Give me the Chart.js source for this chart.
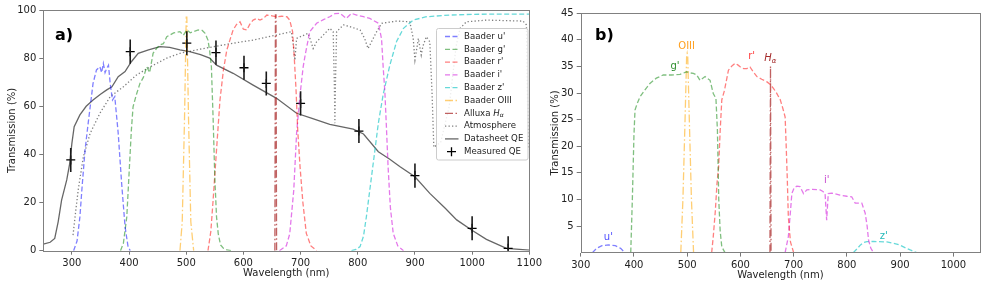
<!DOCTYPE html>
<html><head><meta charset="utf-8">
<script src="https://cdn.jsdelivr.net/npm/chart.js@4.4.1/dist/chart.umd.min.js"></script>
<style>
html,body{margin:0;padding:0;background:#fff;width:987px;height:282px;overflow:hidden}
#ca{position:absolute;left:0;top:0}
#cb{position:absolute;left:537px;top:0}
</style></head><body>
<canvas id="ca" width="560" height="282"></canvas>
<canvas id="cb" width="450" height="282"></canvas>
<script>
// ---------- tick labels ----------
const aTicksX = [300, 400, 500, 600, 700, 800, 900, 1000, 1100];
const aTicksY = [0, 20, 40, 60, 80, 100];
const bTicksX = [300, 400, 500, 600, 700, 800, 900, 1000];
const bTicksY = [5, 10, 15, 20, 25, 30, 35, 40, 45];

// ---------- panel a: filter transmission (%) ----------
const aUx = [303, 309, 314, 318, 323, 328, 332, 337, 343, 349, 352, 355, 358, 361, 364, 367, 371, 375, 381, 387, 393, 398, 402];
const aUy = [0, 4, 14, 27, 41.8, 52, 59.8, 69.5, 75.1, 76.4, 74, 77.8, 74, 75.8, 77.1, 69.5, 62.6, 64, 48.8, 28, 10, 2, 0];
const aGx = [385, 390, 396, 400, 404, 407, 413, 419, 425, 431, 436, 442, 448, 454, 460, 466, 478, 489, 495, 501, 507, 512, 521, 528, 533, 538, 541, 544, 547, 550, 553, 556, 560, 565, 571, 580];
const aGy = [0, 3, 14, 32, 50, 59.8, 65, 69.5, 72, 76.4, 74, 82, 84, 85.5, 86, 88.9, 90.5, 91, 89.5, 91.7, 90.5, 91, 91.7, 91.5, 90.3, 87.5, 83, 76.4, 55, 30, 14, 7, 2.4, 1, 0.3, 0];
const aRx = [538, 543, 547, 553, 559, 565, 571, 577, 582, 588, 594, 600, 606, 611, 617, 623, 629, 635, 641, 650, 658, 667, 676, 681, 686, 689, 692, 695, 699, 704, 710, 718, 728];
const aRy = [0, 8, 21, 42, 62.6, 75, 83.4, 88, 91.7, 94, 95.1, 92, 91.7, 94, 95.8, 96.5, 95.8, 96.5, 97.9, 97.6, 97.2, 97.4, 97.2, 95.8, 91, 80, 67, 50, 35, 20, 7.2, 2, 0];
const aIx = [663, 675, 681, 688, 693, 699, 704.5, 708, 716, 728, 740, 751, 760, 769, 780, 789, 798, 810, 821, 836, 841.6, 844.5, 847.4, 850, 853, 857, 862, 870, 880];
const aIy = [0, 2, 7, 25, 48.8, 64.7, 76.4, 81.3, 91, 94.5, 96, 97.2, 98.5, 98.6, 96.5, 98.6, 97.9, 97.2, 96.5, 94.5, 88, 76, 66, 52, 35, 18, 7.2, 2, 0];
const aZx = [789, 797, 804, 810, 815, 822, 830, 836, 844.5, 856, 868, 880, 897, 920, 961, 1000, 1050, 1100];
const aZy = [0, 0.5, 1.7, 6, 14, 27, 41.8, 53, 65, 77, 87, 92.4, 95.8, 97.2, 97.9, 98.2, 98.3, 98.3];
const aOx = [489, 493, 497, 500, 501, 504, 508, 513];
const aOy = [0, 12, 55, 97, 97, 55, 12, 0];
const aHx = [655, 656, 657, 658];
const aHy = [0, 98, 98, 0];
const atmX = [302, 306, 311, 320, 332, 349, 367, 390, 413, 437, 466, 489, 524, 582, 617, 658, 684, 687, 690, 693, 713, 718, 722, 728, 737, 751, 757, 759, 760, 761, 763, 775, 786, 804, 812, 818, 824, 833, 842, 868, 891, 897, 900, 906, 911, 914, 920, 926, 930, 933, 945, 960, 972, 979, 990, 1025, 1089, 1095, 1098, 1100];
const atmY = [6.5, 15, 25.2, 39, 48.8, 57.1, 64, 68.1, 73, 76.4, 80, 82, 83.7, 86.2, 87.5, 89.6, 91, 86, 79.2, 88.2, 90.3, 87, 84, 86.8, 88.9, 92.4, 91, 70, 53, 70, 91, 93.8, 93.1, 91.7, 88.2, 84, 86.8, 91, 94.5, 95.4, 95.1, 88.2, 79.2, 88.2, 81.3, 85, 88.9, 86.8, 65, 43, 45, 60, 85, 92.4, 95.1, 95.8, 95.4, 93.8, 43, 42];
const qeX = [250, 262, 270, 276, 282, 291, 296, 300, 304, 314, 325, 337, 350, 361, 370, 381, 393, 404, 416, 434, 454, 471, 489, 506, 525, 541, 553, 582, 617, 658, 693, 720, 751, 792, 810, 836, 856, 874, 900, 926, 953, 973, 999, 1025, 1060, 1100];
const qeY = [2.7, 3.5, 5.1, 12, 21, 29.4, 36, 44.6, 51.5, 56.4, 60, 62.6, 65, 66.8, 68.1, 72.3, 74.4, 78.5, 82, 83.4, 84.8, 84.5, 83.4, 82.7, 81.5, 80, 77.1, 73.7, 68.8, 63.3, 57.1, 55, 52.5, 50.5, 48.5, 41.1, 38, 34.9, 30.7, 23.8, 17.6, 12.8, 8.6, 4.7, 1.0, 0.2];
const measX = [298, 402, 501, 552, 601, 640, 700, 802, 900, 1000, 1063];
const measY = [37.7, 82.7, 86.2, 82.3, 76, 69.5, 61.2, 49.7, 31.2, 9.3, 1.0];
const measErr = [5, 5, 5, 5, 5, 5, 5, 5, 5, 5, 5];

// ---------- panel b: total throughput (%) ----------
const bUx = [322, 330, 340, 352, 365, 375, 383];
const bUy = [0, 0.8, 1.3, 1.45, 1.3, 0.8, 0];
const bGx = [394, 397, 400, 402, 406, 411.5, 420, 430, 442, 455, 470, 486.6, 499, 505, 511.6, 518, 524, 533.6, 543, 549, 554, 556.8, 559.3, 562, 565, 571];
const bGy = [0, 10, 22, 26.8, 28, 29.3, 30.5, 31.8, 32.8, 33.4, 33.4, 33.5, 34, 33.8, 33.7, 33.4, 32.4, 33.1, 32.4, 29.9, 29, 23, 10, 4, 1.1, 0];
const bRx = [546, 549, 553, 556, 559, 562, 565, 570, 577.5, 584, 590, 595, 600, 606, 612, 618, 624, 631, 640, 650, 656, 662, 668, 675, 680, 684, 686, 688, 690, 694, 700];
const bRy = [0, 3, 8, 13, 16, 23, 28.7, 30.5, 34.3, 35.1, 35.6, 35.3, 34.9, 34.6, 34.6, 34.9, 34, 33.1, 32.6, 32.1, 31.6, 30.9, 30, 28.7, 27, 25.5, 20, 14, 6.7, 2, 0];
const bIx = [684, 690, 693.4, 696.6, 701, 706, 712, 718.5, 724.8, 735, 749.8, 755, 759, 762, 765, 771.5, 787, 800, 809, 815.6, 828, 834.4, 838, 840.6, 845, 850];
const bIy = [0, 3, 7, 11.1, 12.2, 12.5, 12.4, 11.1, 11.8, 11.9, 11.8, 11.5, 11.1, 6.1, 11.1, 11.2, 10.8, 10.6, 10.5, 9.3, 9.3, 7.4, 5, 2.4, 0.8, 0];
const bZx = [812, 820, 825, 831, 837.6, 850, 875, 890, 900, 910, 919, 931];
const bZy = [0, 0.8, 1.4, 1.9, 2.05, 2.1, 2.0, 1.7, 1.4, 0.9, 0.5, 0];
const bOx = [488, 492, 496, 499, 500, 501, 504, 508, 512];
const bOy = [0, 10, 25, 37, 37.5, 37, 25, 10, 0];
const bHx = [655.5, 656.5, 657.5];
const bHy = [0, 35, 0];

// labels placed in panel b (data units)
const bLabelText = ["u'", "g'", "OIII", "r'", "H\u03b1", "i'", "z'"];
const bLabelX = [352, 477, 499, 621, 656, 762, 869];
const bLabelY = [2.9, 35, 38.7, 36.8, 36.5, 13.6, 3.0];

const legendLabels = ["Baader u'", "Baader g'", "Baader r'", "Baader i'", "Baader z'", "Baader OIII", "Alluxa H\u03b1", "Atmosphere", "Datasheet QE", "Measured QE"];

// ---------- styles ----------
Chart.defaults.font.family = "'DejaVu Sans', sans-serif";
Chart.defaults.font.size = 10;
const DASH = [5, 2.5], DASHDOT = [8, 2.5, 1.5, 2.5], DOT = [1.3, 2.2];
const C = {
  u: 'rgba(0,0,255,0.5)', g: 'rgba(0,128,0,0.5)', r: 'rgba(255,0,0,0.5)',
  i: 'rgba(210,30,220,0.6)', z: 'rgba(0,191,191,0.6)', o: 'rgba(255,165,0,0.55)',
  h: 'rgba(165,30,30,0.7)', atm: 'rgba(0,0,0,0.5)', qe: 'rgba(0,0,0,0.6)'
};
const LC = ['#4d4dff', '#2f8f2f', '#ffa020', '#ff4040', '#a52a2a', '#c84fd0', '#22b8b8'];

const pts = (xs, ys) => xs.map((x, i) => ({x, y: ys[i]}));
function line(label, xs, ys, color, dash, w) {
  return {label, data: pts(xs, ys), showLine: true, borderColor: color, backgroundColor: color,
    borderWidth: w || 1.3, borderDash: dash, pointRadius: 0, pointHoverRadius: 0, fill: false, tension: 0};
}

function xAxis(min, max, ticks, h, tb) {
  return {type: 'linear', min, max,
    afterBuildTicks: s => { s.ticks = ticks.map(v => ({value: v})); },
    ticks: {color: '#222', padding: 3, maxRotation: 0, autoSkip: false, callback: v => String(v)},
    grid: {display: true, drawOnChartArea: false, drawTicks: true, tickLength: 4, color: '#777'},
    border: {display: false},
    title: {display: true, text: 'Wavelength (nm)', color: '#222', padding: {top: 0, bottom: tb}},
    afterFit: s => { s.height = h; s.paddingLeft = 0; s.paddingRight = 0; }
  };
}
function yAxis(min, max, ticks, w, tpad) {
  return {type: 'linear', min, max,
    afterBuildTicks: s => { s.ticks = ticks.map(v => ({value: v})); },
    ticks: {color: '#222', padding: 3, autoSkip: false, callback: v => String(v)},
    grid: {display: true, drawOnChartArea: false, drawTicks: true, tickLength: 4, color: '#777'},
    border: {display: false},
    title: {display: true, text: 'Transmission (%)', color: '#222', padding: {top: tpad, bottom: 0}},
    afterFit: s => { s.width = w; s.paddingTop = 0; s.paddingBottom = 0; }
  };
}

function drawHa(ctx, x, y, size, color, align) {
  ctx.save();
  ctx.fillStyle = color;
  ctx.textBaseline = 'middle';
  ctx.font = 'italic ' + size + 'px "DejaVu Sans"';
  const wH = ctx.measureText('H').width;
  ctx.font = 'italic ' + (size * 0.7) + 'px "DejaVu Sans"';
  const wA = ctx.measureText('\u03b1').width;
  let x0 = x;
  if (align === 'center') x0 = x - (wH + wA) / 2;
  ctx.textAlign = 'left';
  ctx.font = 'italic ' + size + 'px "DejaVu Sans"';
  ctx.fillText('H', x0, y);
  ctx.font = 'italic ' + (size * 0.7) + 'px "DejaVu Sans"';
  ctx.fillText('\u03b1', x0 + wH, y + size * 0.3);
  ctx.restore();
}

function frame(chart) {
  const {ctx, chartArea: a} = chart;
  ctx.save();
  ctx.strokeStyle = '#808080'; ctx.lineWidth = 1; ctx.setLineDash([]);
  ctx.strokeRect(Math.round(a.left) + 0.5, Math.round(a.top) + 0.5, Math.round(a.right - a.left), Math.round(a.bottom - a.top));
  ctx.restore();
}

// ---------- panel a ----------
const aSets = [
  line(legendLabels[0], aUx, aUy, C.u, DASH),
  line(legendLabels[1], aGx, aGy, C.g, DASH),
  line(legendLabels[2], aRx, aRy, C.r, DASH),
  line(legendLabels[3], aIx, aIy, C.i, DASH),
  line(legendLabels[4], aZx, aZy, C.z, DASH),
  line(legendLabels[5], aOx, aOy, C.o, DASHDOT),
  line(legendLabels[6], aHx, aHy, C.h, DASHDOT),
  line(legendLabels[7], atmX, atmY, C.atm, DOT),
  line(legendLabels[8], qeX, qeY, C.qe, [], 1.3),
  {label: legendLabels[9], data: pts(measX, measY), showLine: false, pointStyle: 'cross',
   pointRadius: 4.5, pointHoverRadius: 4.5, borderColor: '#000', backgroundColor: '#000', borderWidth: 1.3}
];

const panelAPlugin = {
  id: 'panelA',
  afterDatasetsDraw(chart) {
    const {ctx, chartArea: a, scales: {x, y}} = chart;
    ctx.save();
    ctx.beginPath(); ctx.rect(a.left, a.top, a.right - a.left, a.bottom - a.top); ctx.clip();
    ctx.strokeStyle = '#1a1a1a'; ctx.lineWidth = 1.6;
    measX.forEach((mx, i) => {
      const px = x.getPixelForValue(mx);
      ctx.beginPath();
      ctx.moveTo(px, y.getPixelForValue(measY[i] - measErr[i]));
      ctx.lineTo(px, y.getPixelForValue(measY[i] + measErr[i]));
      ctx.stroke();
    });
    ctx.restore();
  },
  afterDraw(chart) {
    const ctx = chart.ctx;
    frame(chart);
    ctx.save();
    ctx.fillStyle = '#000'; ctx.font = 'bold 16px "DejaVu Sans"';
    ctx.textBaseline = 'alphabetic'; ctx.textAlign = 'left';
    ctx.fillText('a)', 55, 39.5);
    ctx.restore();
    // legend
    const lx = 436.5, ly = 28.5, lw = 91.5, lh = 131.5;
    ctx.save();
    ctx.fillStyle = 'rgba(255,255,255,0.85)';
    ctx.strokeStyle = '#cccccc'; ctx.lineWidth = 1;
    ctx.beginPath();
    if (ctx.roundRect) ctx.roundRect(lx, ly, lw, lh, 2); else ctx.rect(lx, ly, lw, lh);
    ctx.fill(); ctx.stroke();
    chart.data.datasets.forEach((ds, i) => {
      const yy = 36.5 + i * 12.8;
      if (ds.showLine === false) {
        ctx.strokeStyle = '#000'; ctx.lineWidth = 1.3; ctx.setLineDash([]);
        ctx.beginPath();
        ctx.moveTo(451.5 - 4.5, yy); ctx.lineTo(451.5 + 4.5, yy);
        ctx.moveTo(451.5, yy - 4.5); ctx.lineTo(451.5, yy + 4.5);
        ctx.stroke();
      } else {
        ctx.strokeStyle = ds.borderColor; ctx.lineWidth = ds.borderWidth;
        ctx.setLineDash(ds.borderDash || []);
        ctx.beginPath(); ctx.moveTo(445, yy); ctx.lineTo(458.5, yy); ctx.stroke();
      }
      ctx.setLineDash([]);
      ctx.fillStyle = '#222'; ctx.textBaseline = 'middle'; ctx.textAlign = 'left';
      ctx.font = '8.6px "DejaVu Sans"';
      if (ds.label.indexOf('H\u03b1') >= 0) {
        const pre = ds.label.replace('H\u03b1', '');
        ctx.fillText(pre, 464, yy);
        drawHa(ctx, 464 + ctx.measureText(pre).width, yy, 8.6, '#222', 'left');
      } else {
        ctx.fillText(ds.label, 464, yy);
      }
    });
    ctx.restore();
  }
};

new Chart(document.getElementById('ca'), {
  type: 'scatter',
  data: {datasets: aSets},
  options: {
    responsive: false, animation: false, events: [],
    layout: {padding: {top: 10, right: 30.7, left: 0, bottom: 0}},
    plugins: {legend: {display: false}, tooltip: {enabled: false}},
    scales: {x: xAxis(250, 1100, aTicksX, 31.3, 3), y: yAxis(0, 100, aTicksY, 43.3, 6)}
  },
  plugins: [panelAPlugin]
});

// ---------- panel b ----------
const bSets = [
  line("u'", bUx, bUy, C.u, DASH),
  line("g'", bGx, bGy, C.g, DASH),
  line("OIII", bOx, bOy, C.o, DASHDOT),
  line("r'", bRx, bRy, C.r, DASH),
  line("H\u03b1", bHx, bHy, C.h, DASHDOT),
  line("i'", bIx, bIy, C.i, DASH),
  line("z'", bZx, bZy, C.z, DASH)
];

const panelBPlugin = {
  id: 'panelB',
  afterDraw(chart) {
    const {ctx, scales: {x, y}} = chart;
    frame(chart);
    ctx.save();
    ctx.fillStyle = '#000'; ctx.font = 'bold 16px "DejaVu Sans"';
    ctx.textBaseline = 'alphabetic'; ctx.textAlign = 'left';
    ctx.fillText('b)', 58, 39.5);
    bLabelText.forEach((t, i) => {
      const px = x.getPixelForValue(bLabelX[i]), py = y.getPixelForValue(bLabelY[i]);
      if (t === 'H\u03b1') { drawHa(ctx, px, py, 10, LC[i], 'center'); return; }
      ctx.fillStyle = LC[i]; ctx.font = '10px "DejaVu Sans"';
      ctx.textAlign = 'center'; ctx.textBaseline = 'middle';
      ctx.fillText(t, px, py);
    });
    ctx.restore();
  }
};

new Chart(document.getElementById('cb'), {
  type: 'scatter',
  data: {datasets: bSets},
  options: {
    responsive: false, animation: false, events: [],
    layout: {padding: {top: 13.3, right: 7, left: 0, bottom: 0}},
    plugins: {legend: {display: false}, tooltip: {enabled: false}},
    scales: {x: xAxis(300, 1050, bTicksX, 29.4, 1), y: yAxis(0, 45, bTicksY, 43.7, 12)}
  },
  plugins: [panelBPlugin]
});
</script>
</body></html>
